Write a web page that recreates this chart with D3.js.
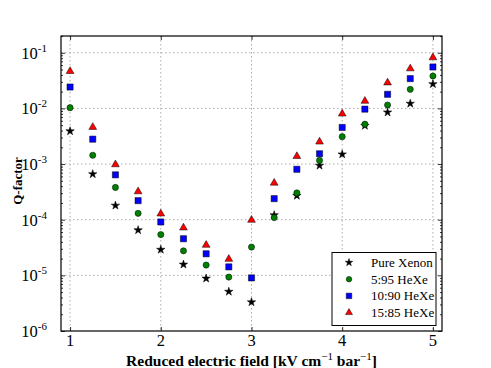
<!DOCTYPE html>
<html>
<head>
<meta charset="utf-8">
<script src="https://cdn.jsdelivr.net/npm/d3@7"></script>
<style>
body { margin: 0; background: white; }
</style>
</head>
<body>
<script>
var fields = [1, 1.25, 1.5, 1.75, 2, 2.25, 2.5, 2.75, 3, 3.25, 3.5, 3.75, 4, 4.25, 4.5, 4.75, 5]

var pureXenon = [0.0039, 0.00066, 0.00018, 0.000065, 0.000029, 0.0000157, 0.0000088, 0.0000051, 0.0000033,
	0.000121, 0.00027, 0.00094, 0.0015, 0.0049, 0.0085, 0.0122, 0.0274]
var heXe595 = [0.0103, 0.00144, 0.00038, 0.00013, 0.000054, 0.0000276, 0.0000153, 0.0000093, 0.0000322,
	0.000109, 0.000303, 0.00116, 0.0031, 0.0052, 0.0115, 0.022, 0.0382]
var heXe1090 = [0.0242, 0.0028, 0.00064, 0.00022, 0.000091, 0.0000455, 0.0000244, 0.0000142, 0.000009,
	0.000239, 0.000805, 0.00153, 0.00455, 0.0097, 0.0179, 0.0343, 0.0555]
var heXe1585 = [0.0465, 0.0046, 0.00098, 0.00032, 0.000128, 0.0000718, 0.000035, 0.0000196, 0.0000987,
	0.000458, 0.00138, 0.00251, 0.008, 0.01355, 0.029, 0.0519, 0.082]

var seriesNames = ['Pure Xenon', '5:95 HeXe', '10:90 HeXe', '15:85 HeXe']
var seriesColors = ['black', 'green', 'blue', 'red']
var seriesSymbols = [d3.symbolStar, d3.symbolCircle, d3.symbolSquare, d3.symbolTriangle]
var seriesSizes = [22, 30, 38, 26]
var seriesValues = [pureXenon, heXe595, heXe1090, heXe1585]

var xTicks = [1, 2, 3, 4, 5]
var yTickExps = [-1, -2, -3, -4, -5, -6]

var serif = '"Liberation Serif", "Times New Roman", Times, serif'

var width = 491, height = 368
var margin = {top: 36, right: 49, bottom: 37, left: 61}
var w = width - margin.left - margin.right,
	h = height - margin.top - margin.bottom

var svg = d3.select('body').append('svg')
	.attr('width', width)
	.attr('height', height)
	.style('font-family', serif)

var chart = svg.append('g')
	.attr('transform', 'translate(' + margin.left + ',' + margin.top + ')')

var x = d3.scaleLinear().domain([0.9, 5.1]).range([0, w])
var y = d3.scaleLog().domain([1e-6, 0.2]).range([h, 0])

// grid lines
chart.append('g').selectAll('line')
	.data(xTicks)
	.enter().append('line')
		.attr('x1', d => x(d)).attr('x2', d => x(d))
		.attr('y1', 0).attr('y2', h)
		.attr('stroke', '#aaa').attr('stroke-dasharray', '1.5,2.5').attr('stroke-width', 1)

chart.append('g').selectAll('line')
	.data(yTickExps.filter(e => e > -6))
	.enter().append('line')
		.attr('x1', 0).attr('x2', w)
		.attr('y1', d => y(Math.pow(10, d))).attr('y2', d => y(Math.pow(10, d)))
		.attr('stroke', '#aaa').attr('stroke-dasharray', '1.5,2.5').attr('stroke-width', 1)

// ticks inward, all four sides
var minor = []
for (var e = -6; e < 0; e++) {
	for (var k = 2; k <= 9; k++) {
		if (k * Math.pow(10, e) <= 0.2) minor.push(k * Math.pow(10, e))
	}
}

chart.append('g')
	.call(d3.axisLeft(y).tickValues(minor).tickSize(-2).tickFormat(''))
chart.append('g')
	.attr('transform', 'translate(' + w + ',0)')
	.call(d3.axisRight(y).tickValues(minor).tickSize(-2).tickFormat(''))
chart.append('g')
	.call(d3.axisLeft(y).tickValues(yTickExps.map(e => Math.pow(10, e))).tickSize(-4).tickFormat(''))
chart.append('g')
	.attr('transform', 'translate(' + w + ',0)')
	.call(d3.axisRight(y).tickValues(yTickExps.map(e => Math.pow(10, e))).tickSize(-4).tickFormat(''))
chart.append('g')
	.attr('transform', 'translate(0,' + h + ')')
	.call(d3.axisBottom(x).tickValues(xTicks).tickSize(-4).tickFormat(''))
chart.append('g')
	.call(d3.axisTop(x).tickValues(xTicks).tickSize(-4).tickFormat(''))

chart.selectAll('.domain').remove()
chart.selectAll('.tick line').attr('stroke', 'black').attr('stroke-width', 0.8)

// y tick labels
var yl = chart.append('g').selectAll('text')
	.data(yTickExps)
	.enter().append('text')
		.attr('x', -14)
		.attr('y', d => y(Math.pow(10, d)) + 6)
		.attr('text-anchor', 'end')
		.attr('font-size', 16.5)
		.text('10')
yl.append('tspan')
	.attr('dy', -7)
	.attr('font-size', 11)
	.text(d => '-' + (-d))

// x tick labels
chart.append('g').selectAll('text')
	.data(xTicks)
	.enter().append('text')
		.attr('x', d => x(d))
		.attr('y', h + 15)
		.attr('text-anchor', 'middle')
		.attr('font-size', 16.5)
		.text(d => d)

// frame
chart.append('rect')
	.attr('width', w).attr('height', h)
	.attr('fill', 'none').attr('stroke', 'black').attr('stroke-width', 1.2)

// markers
seriesValues.forEach(function(vals, i) {
	chart.append('g').selectAll('path')
		.data(vals)
		.enter().append('path')
			.attr('d', d3.symbol().type(seriesSymbols[i]).size(seriesSizes[i]))
			.attr('transform', (d, j) => 'translate(' + x(fields[j]) + ',' + y(d) + ')')
			.attr('fill', seriesColors[i])
			.attr('stroke', 'black')
			.attr('stroke-width', 0.5)
})

// axis titles
svg.append('text')
	.attr('transform', 'translate(22,181) rotate(-90)')
	.attr('text-anchor', 'middle')
	.attr('font-size', 13)
	.attr('font-weight', 'bold')
	.text('Q-factor')

var xt = svg.append('text')
	.attr('x', margin.left + w / 2)
	.attr('y', 366)
	.attr('text-anchor', 'middle')
	.attr('font-size', 15.5)
	.attr('font-weight', 'bold')
xt.append('tspan').text('Reduced electric field [kV cm')
xt.append('tspan').attr('dy', -6).attr('font-size', 11).attr('font-weight', 'normal').text('\u22121')
xt.append('tspan').attr('dy', 6).text(' bar')
xt.append('tspan').attr('dy', -6).attr('font-size', 11).attr('font-weight', 'normal').text('\u22121')
xt.append('tspan').attr('dy', 6).text(']')

// legend
var legend = chart.append('g')
	.attr('transform', 'translate(' + (w - 110) + ',' + (h - 78.5) + ')')
legend.append('rect')
	.attr('width', 104).attr('height', 73)
	.attr('fill', 'white').attr('stroke', 'black').attr('stroke-width', 1)

var rows = legend.selectAll('g.row')
	.data(seriesNames)
	.enter().append('g')
		.attr('class', 'row')
		.attr('transform', (d, i) => 'translate(0,' + (10 + i * 16.7) + ')')
rows.append('path')
	.attr('d', (d, i) => d3.symbol().type(seriesSymbols[i]).size(seriesSizes[i] * 0.8)())
	.attr('transform', 'translate(17,0)')
	.attr('fill', (d, i) => seriesColors[i])
	.attr('stroke', 'black').attr('stroke-width', 0.5)
rows.append('text')
	.attr('x', 39)
	.attr('y', 4.5)
	.attr('font-size', 13)
	.text(d => d)
</script>
</body>
</html>
